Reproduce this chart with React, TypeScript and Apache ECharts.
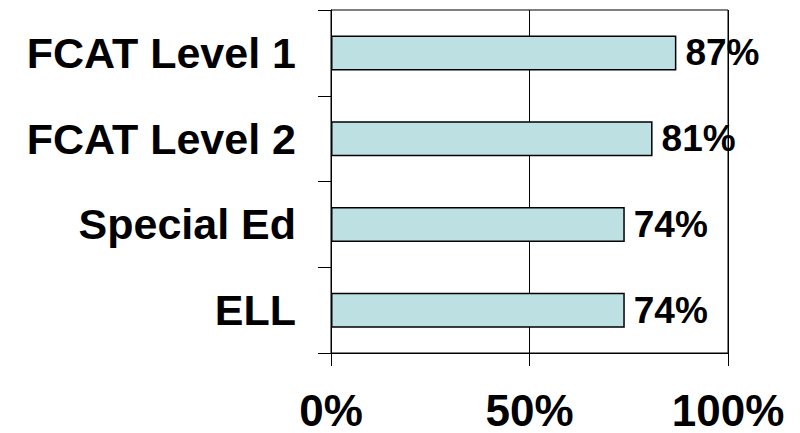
import React, { useEffect, useRef } from "react";
import * as echarts from "echarts";

const categories = ["FCAT Level 1", "FCAT Level 2", "Special Ed", "ELL"];
const values = [87, 81, 74, 74];
const xTicks = [0, 50, 100];

export default function App() {
  const ref = useRef<HTMLDivElement>(null);
  useEffect(() => {
    if (!ref.current) return;
    const chart = echarts.init(ref.current, undefined, { renderer: "svg" });
    const font = "'Liberation Sans', Arial, sans-serif";
    chart.setOption({
      animation: false,
      backgroundColor: "#ffffff",
      grid: {
        left: 331,
        right: 72,
        top: 10,
        bottom: 80,
        show: true,
        borderColor: "#000000",
        borderWidth: 1,
        backgroundColor: "transparent",
      },
      xAxis: {
        type: "value",
        min: xTicks[0],
        max: xTicks[xTicks.length - 1],
        interval: 50,
        axisLine: { show: true, lineStyle: { color: "#000", width: 1 } },
        axisTick: { show: true, length: 13, lineStyle: { color: "#000", width: 1 } },
        splitLine: { show: true, lineStyle: { color: "#000", width: 1 } },
        axisLabel: {
          formatter: "{value}%",
          fontFamily: font,
          fontWeight: "bold",
          fontSize: 44,
          lineHeight: 44,
          color: "#000",
          margin: 35,
        },
      },
      yAxis: {
        type: "category",
        data: categories,
        inverse: true,
        axisLine: { show: true, lineStyle: { color: "#000", width: 1 } },
        axisTick: { show: true, length: 13, lineStyle: { color: "#000", width: 1 } },
        axisLabel: {
          fontFamily: font,
          fontWeight: "bold",
          fontSize: 43,
          color: "#000",
          margin: 35,
        },
      },
      series: [
        {
          type: "bar",
          data: values,
          barWidth: 35,
          itemStyle: {
            color: "#BDE0E3",
            borderColor: "#000",
            borderWidth: 1.5,
          },
          label: {
            show: true,
            position: "right",
            distance: 9,
            formatter: "{c}%",
            fontFamily: font,
            fontWeight: "bold",
            fontSize: 37,
            color: "#000",
          },
        },
      ],
    });
    return () => chart.dispose();
  }, []);
  return (
    <div
      ref={ref}
      style={{ position: "fixed", left: 0, top: 0, width: 800, height: 433 }}
    />
  );
}
